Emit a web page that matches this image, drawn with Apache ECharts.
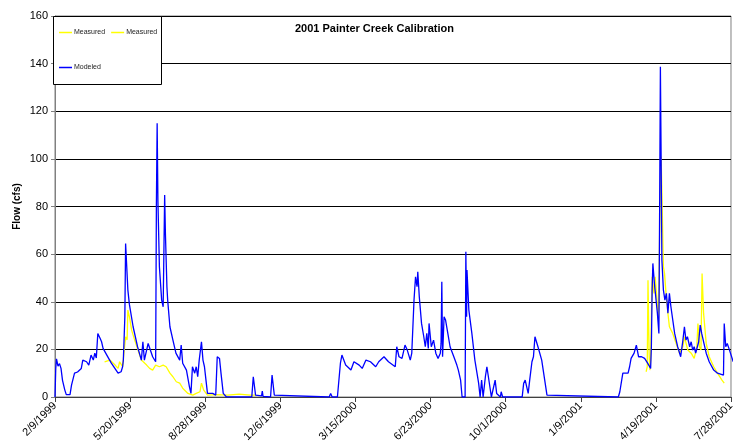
<!DOCTYPE html>
<html>
<head>
<meta charset="utf-8">
<script src="https://cdn.jsdelivr.net/npm/echarts@6/dist/echarts.min.js"></script>
<style>
  html, body { margin: 0; padding: 0; background: #fff; }
  #chart { width: 737px; height: 447px; }
</style>
</head>
<body>
<div id="chart"></div>
<script>
// x values are days since 2/9/1999, y values are flow in cfs
const startDate = Date.UTC(1999, 1, 9)
const yTicks = [0, 20, 40, 60, 80, 100, 120, 140, 160]

const measured1999 = [
  [66, 14.8], [73, 15.5], [80, 13.4], [84, 12], [86, 14.8], [90, 12.7], [91.5, 13.4],
  [94, 25.3], [96, 24], [97, 36.5], [99.5, 33], [102, 28.1], [106, 24], [110.5, 19.7],
  [115, 15.5], [122, 13.4], [126, 12], [130, 11.3], [134, 13.4], [139, 12.7], [144, 13.4],
  [146, 14.2], [148, 12.7], [153, 10], [157, 8.5], [161.5, 6.4], [166, 5.8], [170, 3.7],
  [177, 1.5], [183.5, 0.8], [188, 1.5], [193, 2.2], [195, 5.8], [198, 2.9], [203, 0.8],
  [215, 1], [230, 0.8], [245, 1.2], [260, 0.8], [268, 0.8]
]

const measured2001 = [
  [787, 10.6], [788.5, 12.7], [789.5, 49], [791, 18.4], [792, 11.3], [793, 15.5], [795, 50.5],
  [797.5, 43.5], [799, 50.5], [801.5, 40.7], [803.5, 32.3], [805.5, 80], [807, 101],
  [808.5, 78.5], [810, 54.7], [811.5, 51.9], [813.5, 43.5], [816, 35.2], [818, 29.5],
  [822.5, 26.7], [827, 22.5], [831.5, 18.4], [836, 21.1], [838, 25.3], [842.5, 19.7],
  [847, 18.4], [851, 16.2], [854.5, 21.1], [856, 30.9], [858, 21.1], [860, 19.7],
  [861.5, 51.9], [863.5, 35.2], [867, 22.5], [871, 16.9], [877, 12.7], [882, 10],
  [888, 7.1], [891, 5.8]
]

const modeled = [
  [0, 0], [1, 12], [2, 16], [4, 13], [6, 14], [8, 12], [10, 7], [13, 3], [15, 1], [20, 1],
  [22, 5], [26, 10], [30, 10.5], [35, 12], [37, 15.5], [42, 14.8], [45, 13.4], [48, 17.6],
  [51, 15.5], [53, 18.4], [55, 16.4], [57, 26.7], [60, 24.7], [62, 23.2], [64, 20.4],
  [69, 17.6], [75, 14.2], [84, 10], [88, 10.6], [90, 12.7], [91, 15.5], [93, 33.7],
  [94, 64.5], [97, 45], [99, 39], [104, 29.5], [110, 21], [115, 15.5], [117, 23.2],
  [119, 15.5], [124, 22.5], [126, 21.8], [130, 16.9], [134, 14.8], [135, 81], [136, 115],
  [137, 82.7], [139, 54.7], [142, 40.7], [144, 37.9], [146, 84.8], [147, 68.7], [149, 46.3],
  [150, 40.7], [153, 29.5], [157, 23.9], [161, 18.4], [166, 15.5], [168, 21.8], [170, 14.2],
  [175, 11.3], [179, 4.3], [181, 1.5], [183, 12.7], [186, 10], [188, 12.7], [190, 8.5],
  [192, 15.5], [195, 23.2], [197, 15.5], [199, 12.7], [201, 7.1], [203, 1.5], [210, 1.5],
  [214, 0.8], [216, 16.9], [219, 16.2], [221, 10], [224, 1.5], [228, 0.1], [262, 0],
  [264, 8.5], [267, 0.8], [275, 0.5], [276, 2.5], [277, 0.3], [287, 0], [289, 9.2],
  [292, 0.8], [294, 0], [365, 0], [367, 1.5], [369, 0], [376, 0], [380, 14.2], [382, 17.6],
  [387, 13.4], [394, 11.3], [398, 14.8], [405, 13.4], [409, 12], [414, 15.5], [420, 14.8],
  [427, 12.7], [431, 14.8], [438, 16.9], [444, 14.8], [453, 12.7], [455, 21.1], [458, 16.9],
  [462, 16.2], [466, 21.8], [469, 19.7], [473, 15.5], [475, 18.4], [478, 40.7], [480, 50.5],
  [482, 46.3], [483, 52.6], [485, 42.1], [488, 30.9], [491, 25.3], [493, 21.1], [495, 26.7],
  [497, 20.4], [498, 30.9], [501, 21.1], [504, 23.9], [507, 18.4], [510, 16.2], [513, 18.4],
  [514, 22.5], [515, 48.4], [516, 16.9], [518, 33.7], [520, 32.3], [523, 26.7], [526, 21.1],
  [531, 16.9], [535, 13.4], [537, 11.3], [540, 7.1], [542, 0], [546, 0], [547, 61],
  [548, 33.7], [548.5, 53.3], [551, 36.5], [555, 26.7], [559, 15.5], [564, 5.8], [566, 0],
  [568, 7.1], [570, 0], [573, 8.5], [575, 12.7], [577, 8.5], [581, 0], [586, 7.1],
  [588, 1.5], [593, 0], [594, 2.2], [596, 0], [622, 0], [624, 5.8], [626, 7.1], [630, 1.5],
  [632, 7.1], [635, 14.8], [637, 16.9], [639, 25.3], [643, 21.1], [648, 15.5], [652, 7.1],
  [655, 0.8], [657, 0], [750, 0], [752, 2.2], [756, 10], [763, 10], [765, 12.7], [767, 16.2],
  [771, 18.4], [774, 21.8], [777, 16.9], [781, 16.9], [785, 16.2], [789, 14.2], [793, 12],
  [794, 21.1], [795, 45], [796, 56.1], [798, 47.8], [802, 35.2], [804, 26.7], [805, 78.5],
  [806, 138.7], [807, 99.5], [808, 57.5], [810, 45], [812, 40.7], [814, 43.5], [816, 35.2],
  [818, 43.5], [820, 37.9], [825, 26.7], [829, 21.1], [833, 16.9], [836, 23.9], [838, 29.5],
  [840, 23.9], [842, 25.3], [845, 21.1], [847, 23.2], [849, 19.7], [851, 21.1], [853, 18.4],
  [857, 23.2], [859, 30.2], [861, 26.7], [864, 22.5], [867, 18.4], [871, 14.8], [877, 11.3],
  [882, 10], [890, 9.2], [891, 30.9], [893, 21.1], [895, 22.5], [898, 19.7], [903, 14.8]
]

const font = "'Liberation Sans', Arial, sans-serif"

function dayLabel(v) {
  const d = new Date(startDate + v * 86400000)
  return (d.getUTCMonth() + 1) + "/" + d.getUTCDate() + "/" + d.getUTCFullYear()
}

const chart = echarts.init(document.getElementById("chart"), null, { renderer: "canvas" })

// legend text shared by both legend blocks
const legendText = { fontFamily: font, fontSize: 7, color: "#222", padding: [0, 0, 0, -3] }

const option = {
  animation: false,
  backgroundColor: "#fff",
  textStyle: { fontFamily: font },
  title: {
    text: "2001 Painter Creek Calibration",
    left: 295,
    top: 23,
    padding: 0,
    textStyle: { fontFamily: font, fontSize: 11, fontWeight: "bold", color: "#000" }
  },
  grid: {
    left: 55,
    right: 4,
    top: 16,
    bottom: 50,
    show: true,
    borderColor: "#808080",
    borderWidth: 1,
    backgroundColor: "#fff"
  },
  graphic: [
    {
      type: "rect",
      z: 50,
      shape: { x: 53.5, y: 16.5, width: 108, height: 68 },
      style: { fill: "#fff", stroke: "#000", lineWidth: 1 }
    }
  ],
  legend: [
    {
      z: 60,
      left: 59,
      top: 29,
      padding: 0,
      icon: "rect",
      itemWidth: 13,
      itemHeight: 1.5,
      itemGap: 6,
      selectedMode: false,
      data: ["Measured", "Measured "],
      formatter: (n) => n.trim(),
      textStyle: legendText
    },
    {
      z: 60,
      left: 59,
      top: 64,
      padding: 0,
      icon: "rect",
      itemWidth: 13,
      itemHeight: 1.5,
      selectedMode: false,
      data: ["Modeled"],
      textStyle: legendText
    }
  ],
  xAxis: {
    type: "value",
    min: 0,
    max: 900,
    interval: 100,
    splitLine: { show: false },
    axisLine: { show: true, lineStyle: { color: "#404040", width: 1 } },
    axisTick: { show: true, length: 5, lineStyle: { color: "#404040" } },
    axisLabel: {
      rotate: 45,
      margin: 7,
      fontFamily: font,
      fontSize: 11,
      color: "#000",
      formatter: dayLabel
    }
  },
  yAxis: {
    type: "value",
    min: yTicks[0],
    max: yTicks[yTicks.length - 1],
    interval: 20,
    name: "Flow (cfs)",
    nameLocation: "middle",
    nameGap: 33,
    nameMoveOverlap: false,
    nameTextStyle: { fontFamily: font, fontSize: 10, fontWeight: "bold", color: "#000" },
    splitLine: { show: true, lineStyle: { color: "#000", width: 1 } },
    axisLine: { show: true, lineStyle: { color: "#808080", width: 1 } },
    axisTick: { show: true, length: 4, lineStyle: { color: "#808080" } },
    axisLabel: { margin: 7, fontFamily: font, fontSize: 11, color: "#000" }
  },
  series: [
    {
      name: "Measured",
      type: "line",
      symbol: "none",
      data: measured1999,
      lineStyle: { color: "#ffff00", width: 1.3 },
      itemStyle: { color: "#ffff00" }
    },
    {
      name: "Measured ",
      type: "line",
      symbol: "none",
      data: measured2001,
      lineStyle: { color: "#ffff00", width: 1.3 },
      itemStyle: { color: "#ffff00" }
    },
    {
      name: "Modeled",
      type: "line",
      symbol: "none",
      data: modeled,
      lineStyle: { color: "#0000ff", width: 1.3 },
      itemStyle: { color: "#0000ff" }
    }
  ]
}

chart.setOption(option)
</script>
</body>
</html>
